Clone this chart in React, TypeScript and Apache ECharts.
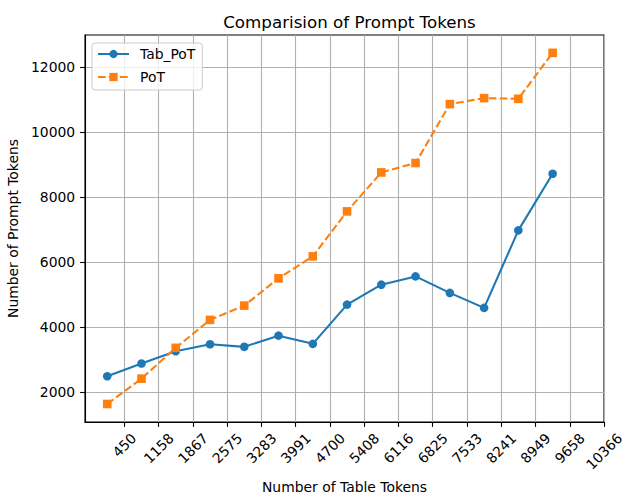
import React, { useEffect, useRef } from "react";
import * as echarts from "echarts";

const titleText = "Comparision of Prompt Tokens";
const xAxisName = "Number of Table Tokens";
const yAxisName = "Number of Prompt Tokens";
const seriesNames = ["Tab_PoT", "PoT"];

const xValues = [96, 804, 1512, 2221, 2929, 3637, 4346, 5054, 5762, 6470, 7179, 7887, 8595, 9304];
const tabPoTValues = [2480, 2870, 3250, 3465, 3385, 3730, 3477, 4686, 5300, 5555, 5046, 4585, 6972, 8717];
const poTValues = [1625, 2405, 3354, 4215, 4655, 5495, 6172, 7557, 8757, 9046, 10862, 11046, 11025, 12440];

const xTickLabels = ["450", "1158", "1867", "2575", "3283", "3991", "4700", "5408", "6116", "6825", "7533", "8241", "8949", "9658", "10366"];
const yTickValues = [2000, 4000, 6000, 8000, 10000, 12000];

const X_MIN = -364;
const X_MAX = 10366;
const Y_MIN = 1070;
const Y_MAX = 12990;

const FONT = "'DejaVu Sans', sans-serif";
const TICK_FS = 13.9;

export default function App() {
  const ref = useRef<HTMLDivElement>(null);

  useEffect(() => {
    if (!ref.current) return;
    const chart = echarts.init(ref.current, undefined, { renderer: "svg" });
    const xTicks = xTickLabels.map(Number);

    chart.setOption({
      animation: false,
      backgroundColor: "#ffffff",
      textStyle: { fontFamily: FONT },
      title: {
        text: titleText,
        left: 344.5,
        top: 8,
        textAlign: "center",
        textStyle: { fontSize: 16.7, fontWeight: "normal", color: "#000", fontFamily: FONT },
      },
      legend: {
        orient: "vertical",
        left: 92,
        top: 43,
        data: seriesNames,
        itemWidth: 31,
        itemHeight: 10.4,
        itemGap: 9,
        padding: [4, 7, 6, 5],
        backgroundColor: "rgba(255,255,255,0.8)",
        borderColor: "#cccccc",
        borderWidth: 1,
        borderRadius: 3,
        textStyle: { fontSize: TICK_FS, color: "#000", fontFamily: FONT, padding: [0, 0, 0, 6] },
      },
      grid: {
        left: 85,
        right: 18,
        top: 35,
        bottom: 74,
        containLabel: false,
        outerBoundsMode: "none",
        show: true,
        borderColor: "#000",
        borderWidth: 1.1,
        backgroundColor: "transparent",
      },
      xAxis: {
        type: "value",
        min: X_MIN,
        max: X_MAX,
        name: xAxisName,
        nameLocation: "middle",
        nameGap: 58,
        nameTextStyle: { fontSize: TICK_FS, color: "#000", fontFamily: FONT },
        axisLine: { show: true, onZero: false, lineStyle: { color: "#000", width: 1.1 } },
        axisTick: { show: true, length: 4.9, customValues: xTicks, lineStyle: { color: "#000", width: 1.1 } },
        axisLabel: { show: false, customValues: xTicks },
        splitLine: { show: true, lineStyle: { color: "#b0b0b0", width: 1.1 } },
      },
      yAxis: {
        type: "value",
        min: Y_MIN,
        max: Y_MAX,
        name: yAxisName,
        nameLocation: "middle",
        nameGap: 60,
        nameTextStyle: { fontSize: TICK_FS, color: "#000", fontFamily: FONT },
        axisLine: { show: true, onZero: false, lineStyle: { color: "#000", width: 1.1 } },
        axisTick: { show: true, length: 4.9, customValues: yTickValues, lineStyle: { color: "#000", width: 1.1 } },
        axisLabel: {
          show: true,
          customValues: yTickValues,
          margin: 9.8,
          fontSize: TICK_FS,
          color: "#000",
          fontFamily: FONT,
          formatter: (v: number) => String(Math.round(v)),
        },
        splitLine: { show: true, lineStyle: { color: "#b0b0b0", width: 1.1 } },
      },
      series: [
        {
          name: seriesNames[0],
          type: "line",
          data: xValues.map((x, i) => [x, tabPoTValues[i]]),
          symbol: "circle",
          symbolSize: 8.6,
          color: "#1f77b4",
          itemStyle: { color: "#1f77b4" },
          lineStyle: { color: "#1f77b4", width: 2.08 },
          z: 3,
        },
        {
          name: seriesNames[1],
          type: "line",
          data: xValues.map((x, i) => [x, poTValues[i]]),
          symbol: "rect",
          symbolSize: 8.6,
          color: "#ff7f0e",
          itemStyle: { color: "#ff7f0e" },
          lineStyle: { color: "#ff7f0e", width: 2.08, type: [7.7, 3.3] },
          z: 4,
        },
      ],
    });

    // rotated x tick labels, bbox centred on tick like matplotlib
    const canvas = document.createElement("canvas");
    const ctx = canvas.getContext("2d")!;
    ctx.font = `${TICK_FS}px 'DejaVu Sans'`;
    const h = TICK_FS * 1.164;
    const axisY = chart.convertToPixel({ yAxisIndex: 0 }, Y_MIN) as number;
    const labels = xTickLabels.map((lab, i) => {
      const px = chart.convertToPixel({ xAxisIndex: 0 }, xTicks[i]) as number;
      const w = ctx.measureText(lab).width;
      const s = (w + h) * Math.SQRT1_2;
      return {
        type: "text",
        x: px,
        y: axisY + 8 + s / 2,
        rotation: Math.PI / 4,
        silent: true,
        style: {
          text: lab,
          align: "center",
          verticalAlign: "middle",
          fontSize: TICK_FS,
          fontFamily: FONT,
          fill: "#000",
        },
      };
    });
    chart.setOption({ graphic: labels });

    return () => chart.dispose();
  }, []);

  return (
    <div
      ref={ref}
      style={{ position: "fixed", left: 0, top: 0, width: 622, height: 496 }}
    />
  );
}
